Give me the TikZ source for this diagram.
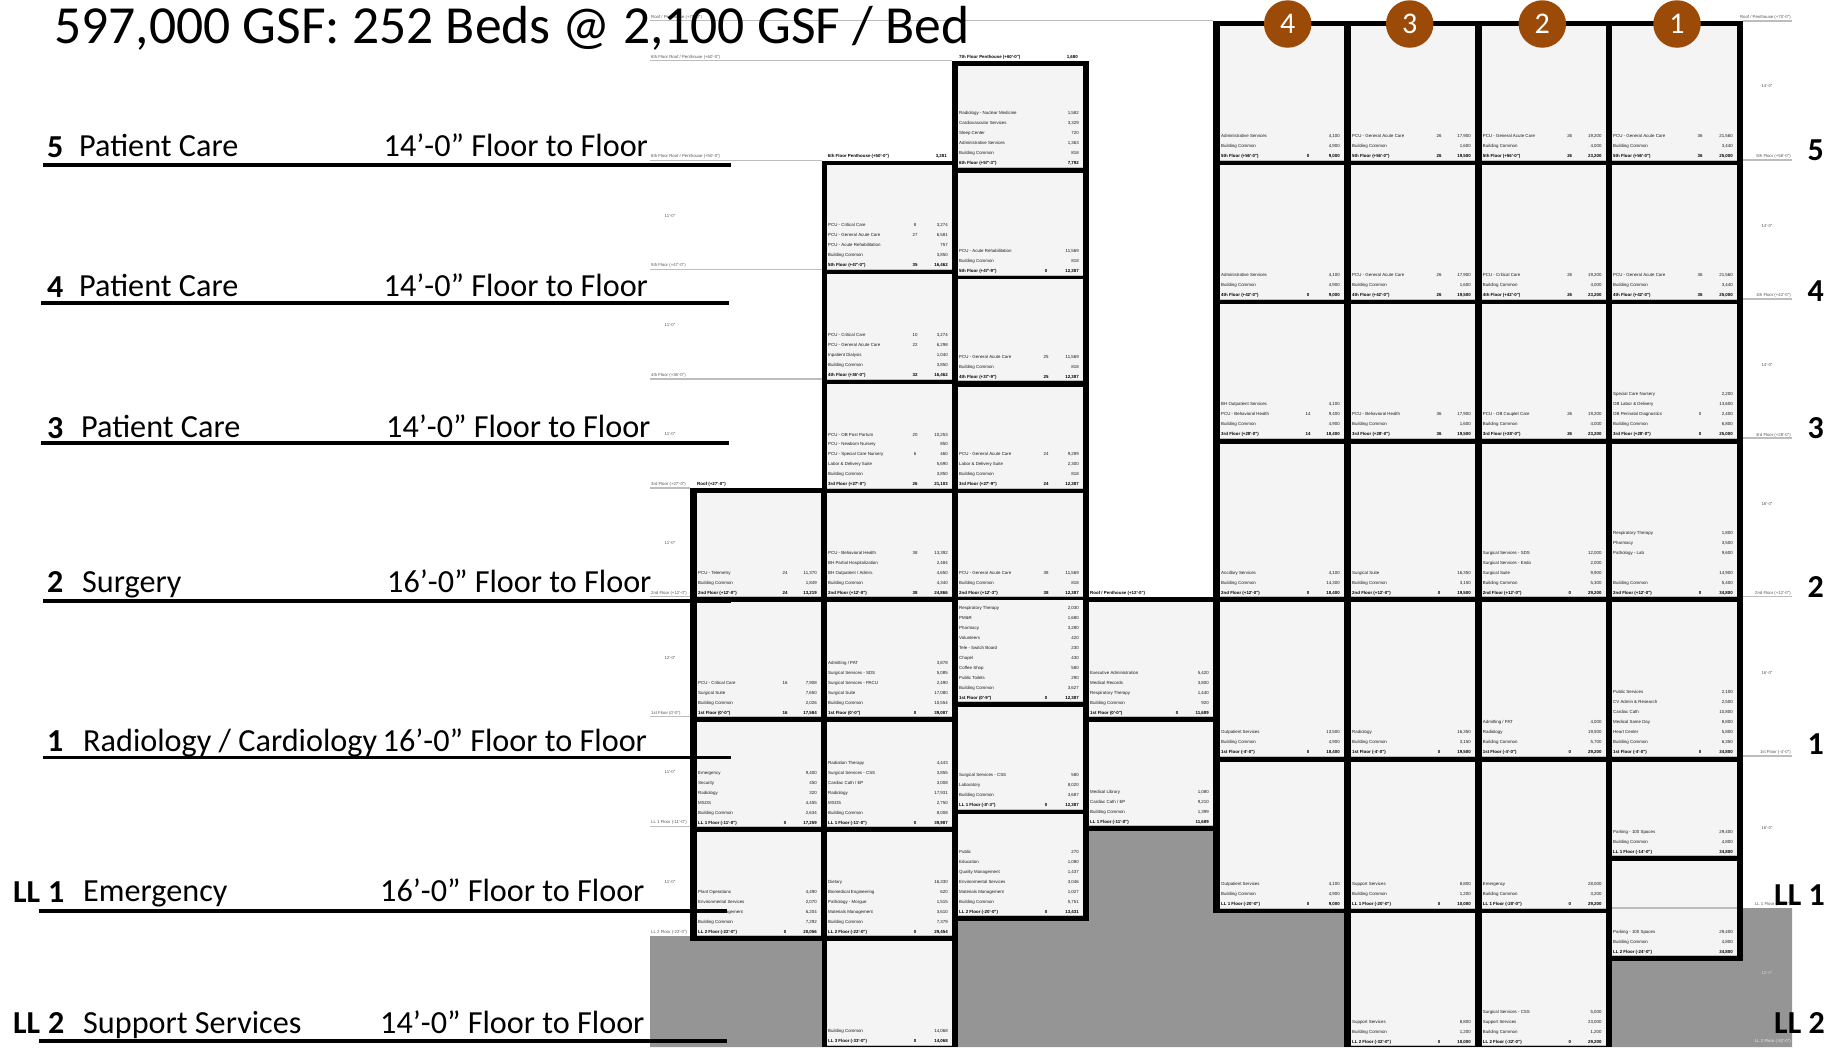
\documentclass[tikz,border=0pt]{standalone}
\usepackage{fontspec}
\setmainfont{Carlito}
\newfontfamily\arialf{Liberation Sans}
\definecolor{cellfill}{HTML}{F4F4F4}
\definecolor{earth}{HTML}{959595}
\definecolor{levelc}{HTML}{BDBDBD}
\definecolor{badgec}{HTML}{9C4A07}
\definecolor{smalltxt}{HTML}{1A1A1A}
\definecolor{levtxt}{HTML}{555555}
\newcounter{nn}
\tikzset{
  rowt/.style={inner sep=0pt,text=smalltxt,font=\arialf\fontsize{4.4}{5}\selectfont},
  rowb/.style={rowt,text=black,font=\arialf\bfseries\fontsize{4.4}{5}\selectfont},
  levt/.style={inner sep=0pt,text=levtxt,font=\arialf\fontsize{4.3}{5}\selectfont},
  levline/.style={draw=levelc,line width=1.1pt},
  wall/.style={fill=black},
  cellbase/.style={draw=levelc,line width=1pt},
  badge/.style={circle,fill=badgec,text=white,minimum size=47.5pt,inner sep=0pt,font=\fontsize{30}{31}\selectfont},
  rule/.style={line width=3.6pt,draw=black},
  bnum/.style={inner sep=0pt,anchor=base west,font=\bfseries\fontsize{32}{34}\selectfont},
  blab/.style={inner sep=0pt,anchor=base west,font=\fontsize{32.2}{34}\selectfont},
}
\newcommand{\cellb}[5]{%
  \fill[cellfill] (#1,#2) rectangle (#3,#4);
  \draw[cellbase] (#1,#4) -- (#3,#4);
  \def\cxa{#1}\def\cxb{#3}%
  \pgfmathsetmacro\rowy{#4-5-(#5-1)*9.93}%
}
\newcommand{\putrow}[5]{% style label beds sf bedoffset
  \if\relax\detokenize{#2}\relax\else
    \stepcounter{nn}\node[#1,anchor=mid west] (r\thenn) at (\cxa+1,\rowy) {#2};
  \fi
  \if\relax\detokenize{#3}\relax\else
    \stepcounter{nn}\node[#1,anchor=mid] (r\thenn) at (\cxa+88,\rowy) {#3};
  \fi
  \if\relax\detokenize{#4}\relax\else
    \stepcounter{nn}\node[#1,anchor=mid east] (r\thenn) at (\cxb-4,\rowy) {#4};
  \fi
  \pgfmathsetmacro\rowy{\rowy+9.93}%
}
\newcommand{\rw}[3]{\putrow{rowt}{#1}{#2}{#3}{}}
\newcommand{\rb}[3]{\putrow{rowb}{#1}{#2}{#3}{}}
\newcommand{\lvL}[2]{\stepcounter{nn}\node[levt,anchor=mid west] (v\thenn) at (651,#1) {#2};}
\newcommand{\lvR}[2]{\stepcounter{nn}\node[levt,anchor=mid east] (v\thenn) at (1791,#1) {#2};}
\newcommand{\dimL}[2]{\stepcounter{nn}\node[levt,anchor=mid] (v\thenn) at (670,#1) {#2};}
\newcommand{\dimR}[2]{\stepcounter{nn}\node[levt,anchor=mid] (v\thenn) at (1767,#1) {#2};}
\newcommand{\bc}{Building Common}
\begin{document}
\begin{tikzpicture}[x=1pt,y=-1pt]
\useasboundingbox (0,0) rectangle (1843,1047);
% earth
\fill[earth] (650,936) -- (952,936) -- (952,915) -- (1089,915) -- (1089,831) -- (1213,831) -- (1213,908) -- (1792,908) -- (1792,1047) -- (650,1047) -- cycle;
% left level lines
\draw[levline] (650,20.7) -- (1213,20.7);
\draw[levline] (650,60.7) -- (952,60.7);
\draw[levline] (650,160.3) -- (822,160.3);
\draw[levline] (650,269.7) -- (822,269.7);
\draw[levline] (650,379) -- (822,379);
\draw[levline] (650,488) -- (690,488);
\draw[levline] (650,596.7) -- (690,596.7);
\draw[levline] (650,716.7) -- (690,716.7);
\draw[levline] (650,826.7) -- (690,826.7);
% right level lines
\draw[levline] (1743,21) -- (1792,21);
\draw[levline] (1743,160) -- (1792,160);
\draw[levline] (1743,299) -- (1792,299);
\draw[levline] (1743,438) -- (1792,438);
\draw[levline] (1743,596.7) -- (1792,596.7);
\draw[levline] (1743,756) -- (1792,756);
% walls
\fill[wall] (690,488) rectangle (822,941);
\fill[wall] (822,160.5) rectangle (958,1047);
\fill[wall] (952,61) rectangle (1089,921);
\fill[wall] (1083,597) rectangle (1220,831);
\fill[wall] (1213,21) rectangle (1351,913);
\fill[wall] (1344,21) rectangle (1612,1047);
\fill[wall] (1605,21) rectangle (1743,961);
\fill[white] (1089,40) rectangle (1213,596.7);
% column A
\cellb{697}{493}{821}{596.7}{3}
\rw{PCU - Telemetry}{24}{11,370}\rw{\bc}{}{1,849}\rb{2nd Floor (+12'-0")}{24}{13,219}
\cellb{697}{602}{821}{716.7}{4}
\rw{PCU - Critical Care}{16}{7,908}\rw{Surgical Suite}{}{7,650}\rw{\bc}{}{2,026}\rb{1st Floor (0'-0")}{16}{17,584}
\cellb{697}{722}{821}{826.7}{6}
\rw{Emergency}{}{9,400}\rw{Security}{}{450}\rw{Radiology}{}{320}\rw{MSOS}{}{4,455}\rw{\bc}{}{2,634}\rb{LL 1 Floor (-11'-0")}{0}{17,259}
\cellb{697}{831.7}{821}{935.7}{5}
\rw{Plant Operations}{}{4,490}\rw{Environmental Services}{}{2,070}\rw{Materials Management}{}{6,204}\rw{\bc}{}{7,292}\rb{LL 2 Floor (-22'-0")}{0}{20,056}
% column B
\cellb{827}{165}{952}{269}{5}
\rw{PCU - Critical Care}{8}{3,274}\rw{PCU - General Acute Care}{27}{6,581}\rw{PCU - Acute Rehabilitation}{}{757}\rw{\bc}{}{3,850}\rb{5th Floor (+47'-0")}{35}{16,462}
\cellb{827}{274.3}{952}{379}{5}
\rw{PCU - Critical Care}{10}{3,274}\rw{PCU - General Acute Care}{22}{6,298}\rw{Inpatient Dialysis}{}{1,040}\rw{\bc}{}{3,850}\rb{4th Floor (+36'-0")}{32}{16,462}
\cellb{827}{384}{952}{488.3}{6}
\rw{PCU - OB Post Partum}{20}{10,253}\rw{PCU - Newborn Nursery}{}{850}\rw{PCU - Special Care Nursery}{6}{460}\rw{Labor \& Delivery Suite}{}{5,690}\rw{\bc}{}{3,850}\rb{3rd Floor (+27'-0")}{26}{21,103}
\cellb{827}{493}{952}{596.7}{5}
\rw{PCU - Behavioral Health}{38}{13,392}\rw{BH Partial Hospitalization}{}{2,484}\rw{BH Outpatient / Admin.}{}{4,650}\rw{\bc}{}{4,340}\rb{2nd Floor (+12'-0")}{38}{24,866}
\cellb{827}{602}{952}{716.7}{6}
\rw{Admitting / PAT}{}{3,878}\rw{Surgical Services - SDS}{}{5,085}\rw{Surgical Services - PACU}{}{2,490}\rw{Surgical Suite}{}{17,080}\rw{\bc}{}{10,554}\rb{1st Floor (0'-0")}{0}{39,087}
\cellb{827}{722}{952}{826.7}{7}
\rw{Radiation Therapy}{}{4,443}\rw{Surgical Services - CSS}{}{3,855}\rw{Cardiac Cath / EP}{}{3,008}\rw{Radiology}{}{17,931}\rw{MSOS}{}{2,750}\rw{\bc}{}{8,008}\rb{LL 1 Floor (-11'-0")}{0}{39,987}
\cellb{827}{831.7}{952}{935.7}{6}
\rw{Dietary}{}{16,330}\rw{Biomedical Engineering}{}{620}\rw{Pathology - Morgue}{}{1,515}\rw{Materials Management}{}{3,610}\rw{\bc}{}{7,379}\rb{LL 2 Floor (-22'-0")}{0}{29,454}
\cellb{827}{941}{952}{1045.5}{2}
\rw{\bc}{}{14,068}\rb{LL 3 Floor (-33'-0")}{0}{14,068}
% column C
\cellb{958}{66}{1083}{167}{6}
\rw{Radiology - Nuclear Medicine}{}{1,582}\rw{Cardiovascular Services}{}{3,329}\rw{Sleep Center}{}{720}\rw{Administrative Services}{}{1,363}\rw{\bc}{}{818}\rb{6th Floor (+57'-3")}{}{7,792}
\cellb{958}{173}{1083}{275}{3}
\rw{PCU - Acute Rehabilitation}{}{11,569}\rw{\bc}{}{818}\rb{5th Floor (+47'-9")}{0}{12,387}
\cellb{958}{279}{1083}{380.7}{3}
\rw{PCU - General Acute Care}{25}{11,569}\rw{\bc}{}{818}\rb{4th Floor (+37'-9")}{25}{12,387}
\cellb{958}{386.7}{1083}{488}{4}
\rw{PCU - General Acute Care}{24}{9,289}\rw{Labor \& Delivery Suite}{}{2,300}\rw{\bc}{}{818}\rb{3rd Floor (+27'-9")}{24}{12,387}
\cellb{958}{493}{1083}{596.7}{3}
\rw{PCU - General Acute Care}{38}{11,569}\rw{\bc}{}{818}\rb{2nd Floor (+12'-3")}{38}{12,387}
\cellb{958}{600}{1083}{701.7}{10}
\rw{Respiratory Therapy}{}{2,030}\rw{PM\&R}{}{1,680}\rw{Pharmacy}{}{3,280}\rw{Volunteers}{}{420}\rw{Tele - Switch Board}{}{230}\rw{Chapel}{}{430}\rw{Coffee Shop}{}{580}\rw{Public Toilets}{}{290}\rw{\bc}{}{3,627}\rb{1st Floor (0'-9")}{0}{12,387}
\cellb{958}{706.7}{1083}{809}{4}
\rw{Surgical Services - CSS}{}{580}\rw{Laboratory}{}{8,020}\rw{\bc}{}{3,687}\rb{LL 1 Floor (-8'-3")}{0}{12,387}
\cellb{958}{814}{1083}{915.7}{7}
\rw{Public}{}{270}\rw{Education}{}{1,080}\rw{Quality Management}{}{1,437}\rw{Environmental Services}{}{3,046}\rw{Materials Management}{}{1,027}\rw{\bc}{}{5,751}\rb{LL 2 Floor (-20'-0")}{0}{13,431}
% column D
\cellb{1089}{602}{1213}{716.7}{5}
\rw{Executive Administration}{}{5,420}\rw{Medical Records}{}{3,800}\rw{Respiratory Therapy}{}{1,440}\rw{\bc}{}{920}\rb{1st Floor (0'-0")}{0}{11,689}
\cellb{1089}{722}{1213}{825.7}{4}
\rw{Medical Library}{}{1,080}\rw{Cardiac Cath / EP}{}{9,210}\rw{\bc}{}{1,399}\rb{LL 1 Floor (-11'-0")}{}{11,689}
% column E
\cellb{1220}{26}{1344}{160}{3}
\rw{Administrative Services}{}{4,100}\rw{\bc}{}{4,900}\rb{5th Floor (+56'-0")}{0}{9,000}
\cellb{1220}{165}{1344}{299.3}{3}
\rw{Administrative Services}{}{4,100}\rw{\bc}{}{4,900}\rb{4th Floor (+42'-0")}{0}{9,000}
\cellb{1220}{304.3}{1344}{438.3}{4}
\rw{BH Outpatient Services}{}{4,100}\rw{PCU - Behavioral Health}{14}{9,400}\rw{\bc}{}{4,900}\rb{3rd Floor (+28'-0")}{14}{18,400}
\cellb{1220}{444}{1344}{596.7}{3}
\rw{Ancillary Services}{}{4,100}\rw{\bc}{}{14,300}\rb{2nd Floor (+12'-0")}{0}{18,400}
\cellb{1220}{602}{1344}{756}{3}
\rw{Outpatient Services}{}{13,500}\rw{\bc}{}{4,900}\rb{1st Floor (-4'-0")}{0}{18,400}
\cellb{1220}{761.7}{1344}{908.3}{3}
\rw{Outpatient Services}{}{4,100}\rw{\bc}{}{4,900}\rb{LL 1 Floor (-20'-0")}{0}{9,000}
% column F
\cellb{1351}{26}{1475}{160}{3}
\rw{PCU - General Acute Care}{26}{17,900}\rw{\bc}{}{1,600}\rb{5th Floor (+56'-0")}{26}{19,500}
\cellb{1351}{165}{1475}{299.3}{3}
\rw{PCU - General Acute Care}{26}{17,900}\rw{\bc}{}{1,600}\rb{4th Floor (+42'-0")}{26}{19,500}
\cellb{1351}{304.3}{1475}{438.3}{3}
\rw{PCU - Behavioral Health}{36}{17,900}\rw{\bc}{}{1,600}\rb{3rd Floor (+28'-0")}{36}{19,500}
\cellb{1351}{444}{1475}{596.7}{3}
\rw{Surgical Suite}{}{16,350}\rw{\bc}{}{3,150}\rb{2nd Floor (+12'-0")}{0}{19,500}
\cellb{1351}{602}{1475}{756}{3}
\rw{Radiology}{}{16,350}\rw{\bc}{}{3,150}\rb{1st Floor (-4'-0")}{0}{19,500}
\cellb{1351}{761.7}{1475}{908.3}{3}
\rw{Support Services}{}{8,800}\rw{\bc}{}{1,200}\rb{LL 1 Floor (-20'-0")}{0}{10,000}
\cellb{1351}{913.3}{1475}{1045.7}{3}
\rw{Support Services}{}{8,800}\rw{\bc}{}{1,200}\rb{LL 2 Floor (-32'-0")}{0}{10,000}
% column G
\cellb{1481.7}{26}{1605.7}{160}{3}
\rw{PCU - General Acute Care}{26}{19,200}\rw{\bc}{}{4,000}\rb{5th Floor (+56'-0")}{26}{23,200}
\cellb{1481.7}{165}{1605.7}{299.3}{3}
\rw{PCU - Critical Care}{26}{19,200}\rw{\bc}{}{4,000}\rb{4th Floor (+42'-0")}{26}{23,200}
\cellb{1481.7}{304.3}{1605.7}{438.3}{3}
\rw{PCU - OB Couplet Care}{26}{19,200}\rw{\bc}{}{4,000}\rb{3rd Floor (+28'-0")}{26}{23,200}
\cellb{1481.7}{444}{1605.7}{596.7}{5}
\rw{Surgical Services - SDS}{}{12,000}\rw{Surgical Services - Endo}{}{2,000}\rw{Surgical Suite}{}{9,900}\rw{\bc}{}{5,300}\rb{2nd Floor (+12'-0")}{0}{29,200}
\cellb{1481.7}{602}{1605.7}{756}{4}
\rw{Admitting / PAT}{}{4,000}\rw{Radiology}{}{19,500}\rw{\bc}{}{5,700}\rb{1st Floor (-4'-0")}{0}{29,200}
\cellb{1481.7}{761.7}{1605.7}{908.3}{3}
\rw{Emergency}{}{28,000}\rw{\bc}{}{3,200}\rb{LL 1 Floor (-20'-0")}{0}{29,200}
\cellb{1481.7}{913.3}{1605.7}{1045.7}{4}
\rw{Surgical Services - CSS}{}{5,000}\rw{Support Services}{}{23,000}\rw{\bc}{}{1,200}\rb{LL 2 Floor (-32'-0")}{0}{29,200}
% column H
\cellb{1612}{26}{1737}{160}{3}
\rw{PCU - General Acute Care}{36}{21,560}\rw{\bc}{}{3,440}\rb{5th Floor (+56'-0")}{36}{25,000}
\cellb{1612}{165}{1737}{299.3}{3}
\rw{PCU - General Acute Care}{36}{21,560}\rw{\bc}{}{3,440}\rb{4th Floor (+42'-0")}{36}{25,000}
\cellb{1612}{304.3}{1737}{438.3}{5}
\rw{Special Care Nursery}{}{2,200}\rw{OB Labor \& Delivery}{}{13,600}\rw{OB Perinatal Diagnostics}{0}{2,400}\rw{\bc}{}{6,800}\rb{3rd Floor (+28'-0")}{0}{25,000}
\cellb{1612}{444}{1737}{596.7}{7}
\rw{Respiratory Therapy}{}{1,800}\rw{Pharmacy}{}{3,500}\rw{Pathology - Lab}{}{9,600}\rw{}{}{}\rw{}{}{14,900}\rw{\bc}{}{5,400}\rb{2nd Floor (+12'-0")}{0}{34,800}
\cellb{1612}{602}{1737}{756}{7}
\rw{Public Services}{}{2,100}\rw{CV Admin \& Research}{}{2,500}\rw{Cardiac Cath}{}{10,800}\rw{Medical Same Day}{}{8,800}\rw{Heart Center}{}{5,800}\rw{\bc}{}{6,350}\rb{1st Floor (-4'-0")}{0}{34,800}
\cellb{1612}{761.7}{1737}{855.7}{3}
\rw{Parking - 100 Spaces}{}{29,400}\rw{\bc}{}{4,800}\rb{LL 1 Floor (-14'-0")}{}{34,800}
\cellb{1612}{861}{1737}{955.7}{3}
\rw{Parking - 100 Spaces}{}{29,400}\rw{\bc}{}{4,800}\rb{LL 2 Floor (-24'-0")}{}{34,800}
\draw[levline] (1612,908) -- (1737,908);
% level labels left
\lvL{15.7}{Roof / Penthouse (+70'-0")}
\lvL{55.7}{6th Floor Roof / Penthouse (+60'-0")}
\lvL{155}{6th Floor Roof / Penthouse (+50'-0")}
\lvL{264}{5th Floor (+47'-0")}
\lvL{373.7}{4th Floor (+36'-0")}
\lvL{483}{3rd Floor (+27'-0")}
\lvL{591.7}{2nd Floor (+12'-0")}
\lvL{711.7}{1st Floor (0'-0")}
\lvL{821}{LL 1 Floor (-11'-0")}
\lvL{930.7}{LL 2 Floor (-22'-0")}
\dimL{214.7}{11'-0"}\dimL{324}{11'-0"}\dimL{433}{11'-0"}\dimL{541.7}{11'-0"}\dimL{656.7}{12'-0"}\dimL{771}{11'-0"}\dimL{881}{11'-0"}
\node[rowb,anchor=mid west] (roofA) at (697,483) {Roof (+27'-0")};
\node[rowb,anchor=mid west] (pent7) at (959,55.7) {7th Floor Penthouse (+60'-0")};
\node[rowb,anchor=mid east] (pent7v) at (1078,55.7) {1,680};
\node[rowb,anchor=mid west] (pent6) at (827.7,155) {6th Floor Penthouse (+50'-0")};
\node[rowb,anchor=mid east] (pent6v) at (947,155) {3,281};
\node[rowb,anchor=mid west] (roofD) at (1090,592) {Roof / Penthouse (+12'-0")};
% level labels right
\lvR{15.7}{Roof / Penthouse (+70'-0")}
\lvR{155}{5th Floor (+56'-0")}
\lvR{294}{4th Floor (+42'-0")}
\lvR{433.7}{3rd Floor (+28'-0")}
\lvR{592}{2nd Floor (+12'-0")}
\lvR{751.3}{1st Floor (-4'-0")}
\lvR{903}{LL 1 Floor (-20'-0")}
\node[levt,text=white!85!earth,anchor=mid east] (lvll) at (1791,1040) {LL 2 Floor (-32'-0")};
\dimR{85}{14'-0"}\dimR{225}{14'-0"}\dimR{363.7}{14'-0"}\dimR{503}{16'-0"}\dimR{671.7}{16'-0"}\dimR{827}{16'-0"}
\node[levt,text=white!60!earth,anchor=mid] (d12) at (1767,971.7) {12'-0"};
% badges
\node[badge] (c4) at (1287.7,24) {4};
\node[badge] (c3) at (1409.7,24) {3};
\node[badge] (c2) at (1542.3,24) {2};
\node[badge] (c1) at (1677,24) {1};
% left rules
\draw[rule] (43,165) -- (731,165);
\draw[rule] (41,302.7) -- (729,302.7);
\draw[rule] (41,443) -- (729,443);
\draw[rule] (43,601) -- (731,601);
\draw[rule] (43,757.6) -- (731,757.6);
\draw[rule] (39,911) -- (727,911);
\draw[rule] (39,1040.7) -- (727,1040.7);
% left labels
\node[bnum] (n5) at (47,157) {5}; \node[blab] (t5) at (79,156) {Patient Care}; \node[blab] (f5) at (383.5,156) {14’-0” Floor to Floor};
\node[bnum] (n4) at (47,297) {4}; \node[blab] (t4) at (79,296) {Patient Care}; \node[blab] (f4) at (383.5,296) {14’-0” Floor to Floor};
\node[bnum] (n3) at (47,438) {3}; \node[blab] (t3) at (81,437.7) {Patient Care}; \node[blab] (f3) at (386,437.7) {14’-0” Floor to Floor};
\node[bnum] (n2) at (47,592) {2}; \node[blab] (t2) at (82,592) {Surgery}; \node[blab] (f2) at (387,592) {16’-0” Floor to Floor};
\node[bnum] (n1) at (47,751) {1}; \node[blab] (t1) at (83,751) {Radiology / Cardiology}; \node[blab] (f1) at (382.5,751) {16’-0” Floor to Floor};
\node[bnum] (lla) at (13,902) {LL}; \node[bnum] (lln1) at (48,902) {1}; \node[blab] (tl1) at (83,901.5) {Emergency}; \node[blab] (fl1) at (380,901.5) {16’-0” Floor to Floor};
\node[bnum] (llb) at (13,1033) {LL}; \node[bnum] (lln2) at (48,1033) {2}; \node[blab] (tl2) at (83,1033) {Support Services}; \node[blab] (fl2) at (380,1033) {14’-0” Floor to Floor};
% right labels
\node[bnum] (r5) at (1807.5,160) {5};
\node[bnum] (r4) at (1807.5,301.7) {4};
\node[bnum] (r3) at (1807.5,438.3) {3};
\node[bnum] (r2) at (1807.5,597) {2};
\node[bnum] (r1) at (1807.5,754) {1};
\node[bnum] (rl1) at (1774,905) {LL 1};
\node[bnum] (rl2) at (1774,1033) {LL 2};
% title
\node[inner sep=0pt,anchor=base west,font=\fontsize{53.6}{56}\selectfont] (title) at (54,43) {597,000 GSF: 252 Beds @ 2,100 GSF / Bed};
\end{tikzpicture}
\end{document}
